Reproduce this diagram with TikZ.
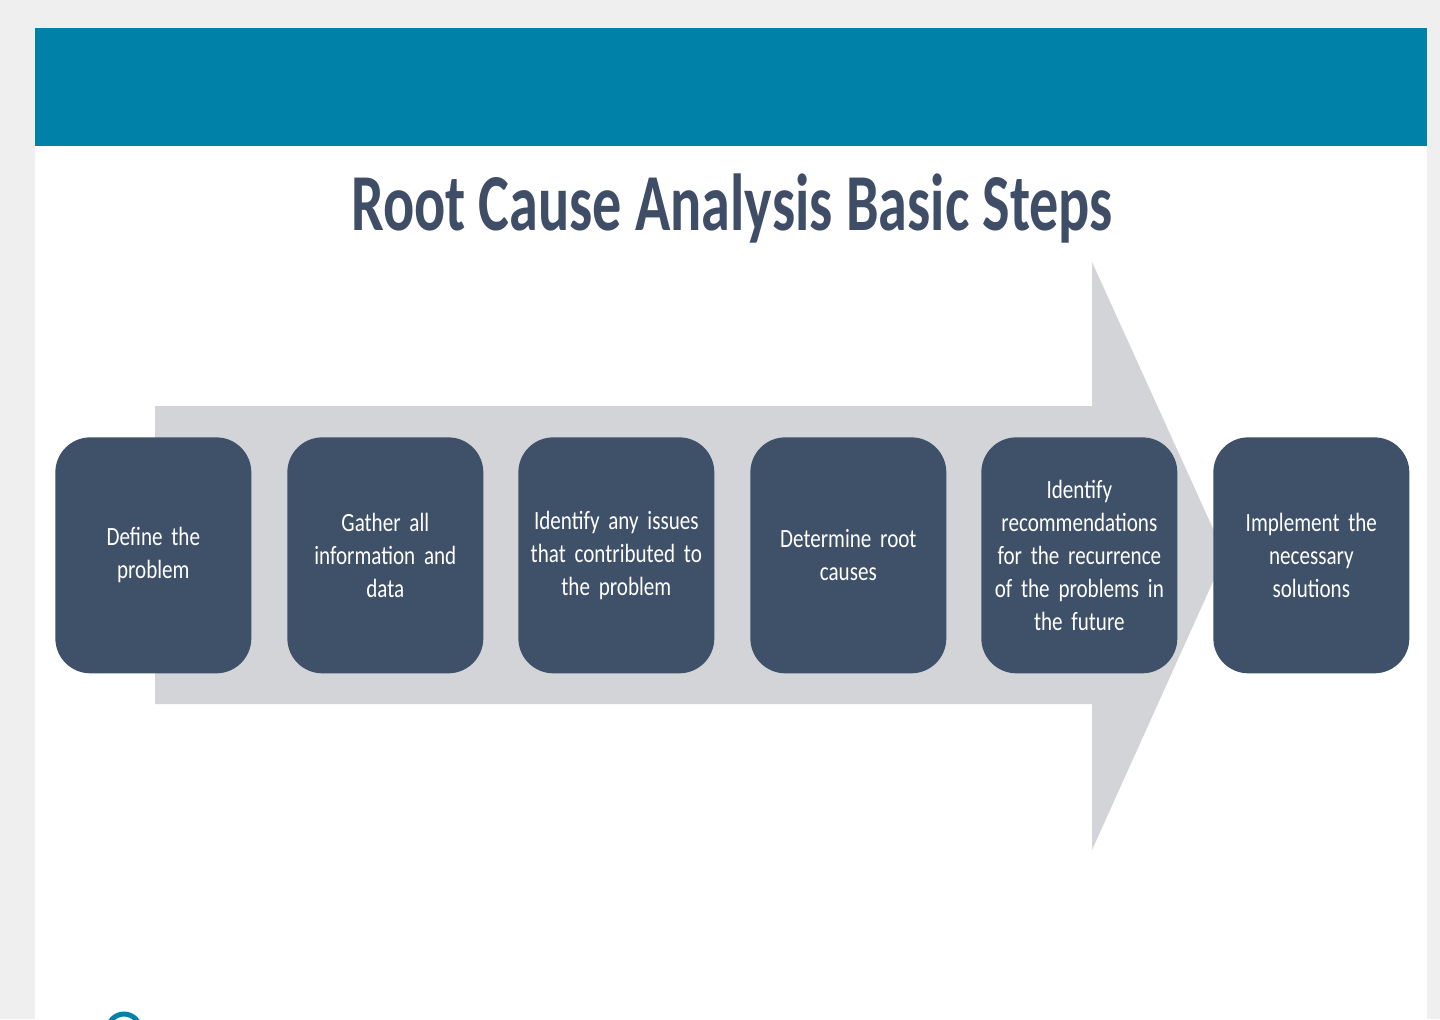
\documentclass[tikz,border=0pt]{standalone}
\usepackage{fontspec}
\setmainfont{Carlito}
\newfontfamily\condfont{Carlito}[FakeStretch=0.8]
\newfontfamily\titlefont{Carlito}[FakeStretch=0.72]
\definecolor{bg}{HTML}{EFEFEF}
\definecolor{banner}{HTML}{0081A8}
\definecolor{navy}{HTML}{3F5069}
\definecolor{titlec}{HTML}{3F4E66}
\definecolor{arrowc}{HTML}{D3D4D8}
\begin{document}
\begin{tikzpicture}[x=0.02cm,y=-0.02cm,
 stepbox/.style={fill=navy,rounded corners=0.7cm,minimum width=3.92cm,minimum height=4.72cm,anchor=north west,text=white,align=center,text width=3.8cm,font=\condfont\fontsize{15}{18.7}\selectfont,inner sep=0pt}]
\useasboundingbox (0,0) rectangle (1440,1019);
\fill[bg] (0,0) rectangle (1440,1019);
\fill[white] (35,28) rectangle (1427,1019);
\fill[banner] (35,28) rectangle (1427,146);
\node[text=titlec,font=\titlefont\fontsize{46}{50}\selectfont\bfseries] (title) at (732,208) {Root Cause Analysis Basic Steps};
\fill[arrowc] (155,406) -- (1092,406) -- (1092,262) -- (1225,555) -- (1092,850) -- (1092,704) -- (155,704) -- cycle;
\node[stepbox] (s1) at (55,437) {Define the\\problem};
\node[stepbox] (s2) at (287,437) {Gather all\\information and\\data};
\node[stepbox] (s3) at (518,437) {Identify any issues\\that contributed to\\the problem};
\node[stepbox] (s4) at (750,437) {Determine root\\causes};
\node[stepbox] (s5) at (981,437) {Identify\\recommendations\\for the recurrence\\of the problems in\\the future};
\node[stepbox] (s6) at (1213,437) {Implement the\\necessary\\solutions};
\begin{scope}
\clip (0,0) rectangle (1440,1019);
\draw[banner,line width=0.1cm] (124,1030) circle (16);
\end{scope}
\end{tikzpicture}
\end{document}
